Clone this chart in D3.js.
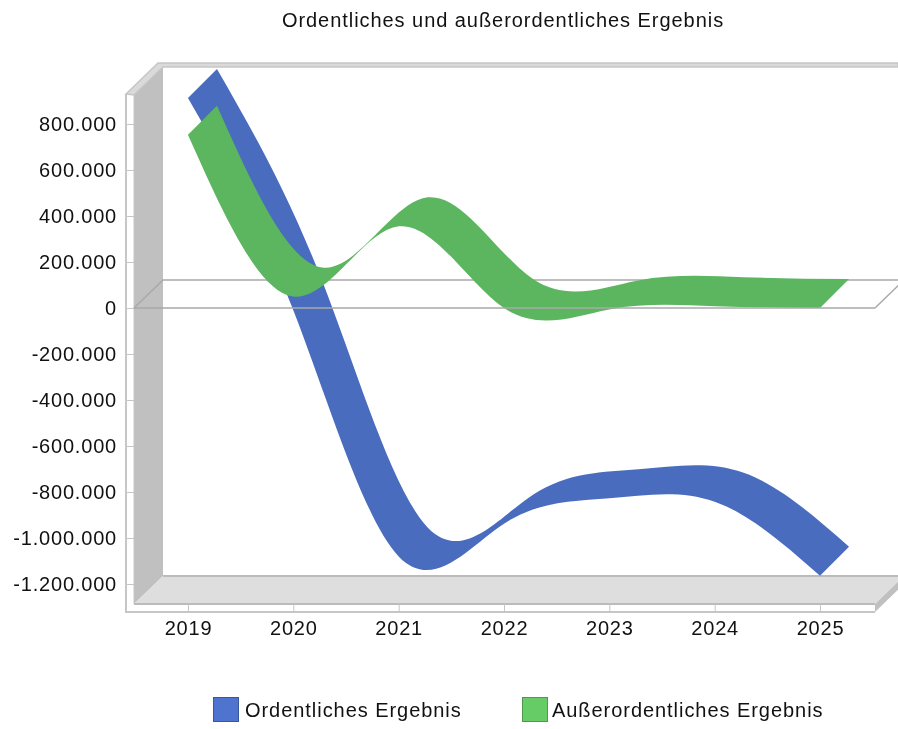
<!DOCTYPE html>
<html>
<head>
<meta charset="utf-8">
<script src="https://cdn.jsdelivr.net/npm/d3@7"></script>
<style>
    html, body { margin: 0; padding: 0; background: #fff; }
    svg { filter: blur(0.35px); }
    text { font-family: "Liberation Sans", Arial, sans-serif; font-size: 20px; fill: #111; letter-spacing: 0.95px; }
    .tick text { letter-spacing: 0.8px; }
</style>
</head>
<body>
<div id="chart"></div>
<script>
const chartTitle = "Ordentliches und außerordentliches Ergebnis";
const years = ["2019", "2020", "2021", "2022", "2023", "2024", "2025"];
const ordentlich = [913000, -10000, -1080000, -938000, -827000, -842000, -1164000];
const ausserordentlich = [753000, 50000, 355000, 0, -6000, 8000, 0];
const yTicks = [800000, 600000, 400000, 200000, 0, -200000, -400000, -600000, -800000, -1000000, -1200000];
const seriesNames = ["Ordentliches Ergebnis", "Außerordentliches Ergebnis"];
const seriesColors = ["#4a6cbf", "#5cb660"];
const legendColors = ["#4f74d0", "#66cc66"];

const width = 898;
const height = 729;

// front plane of the 3d box, back plane sits depth px up and to the right
const plotLeft = 134, plotRight = 875, plotTop = 95, plotBottom = 604;
const depthX = 29, depthY = 28;
const ribbonDepth = 29;

const svg = d3.select("#chart")
    .append("svg")
    .attr("width", width)
    .attr("height", height)
    .style("display", "block");

const xScale = d3.scalePoint()
    .domain(years)
    .range([135.3, 872.7])
    .padding(0.5);

const yScale = d3.scaleLinear()
    .domain([-1200000, 800000])
    .range([584, 124]);

const poly = pts => "M" + pts.map(p => p.join(",")).join("L") + "Z";

svg.append("text")
    .attr("x", 503)
    .attr("y", 27)
    .attr("text-anchor", "middle")
    .text(chartTitle);

// walls and floor
svg.append("path")
    .attr("d", poly([[plotLeft, plotTop], [plotLeft + depthX, plotTop - depthY], [plotLeft + depthX, plotBottom - depthY], [plotLeft, plotBottom]]))
    .attr("fill", "#c0c0c0");
svg.append("path")
    .attr("d", poly([[plotLeft, plotBottom], [plotLeft + depthX, plotBottom - depthY], [plotRight + depthX, plotBottom - depthY], [plotRight, plotBottom]]))
    .attr("fill", "#dedede");
svg.append("path")
    .attr("d", poly([[plotRight, plotBottom], [plotRight + depthX, plotBottom - depthY], [plotRight + depthX, plotBottom - depthY + 8], [plotRight, plotBottom + 8]]))
    .attr("fill", "#c0c0c0");

const frame = "#c6c6c6";
svg.append("line").attr("x1", plotLeft + depthX).attr("x2", width).attr("y1", plotBottom - depthY).attr("y2", plotBottom - depthY).attr("stroke", "#bbb").attr("stroke-width", 2);
svg.append("line").attr("x1", plotLeft).attr("x2", plotRight).attr("y1", plotBottom).attr("y2", plotBottom).attr("stroke", "#bbb").attr("stroke-width", 2);
svg.append("line").attr("x1", plotLeft - 9).attr("x2", plotRight).attr("y1", plotBottom + 8).attr("y2", plotBottom + 8).attr("stroke", frame).attr("stroke-width", 2);
svg.append("line").attr("x1", plotLeft - 8).attr("x2", plotLeft - 8).attr("y1", plotTop - 1).attr("y2", plotBottom + 9).attr("stroke", frame).attr("stroke-width", 2);
svg.append("line").attr("x1", plotLeft).attr("x2", plotLeft).attr("y1", plotTop).attr("y2", plotBottom).attr("stroke", frame).attr("stroke-width", 1);
svg.append("path")
    .attr("d", poly([[plotLeft - 8, plotTop - 1], [plotLeft + depthX - 5, plotTop - depthY - 4], [width, plotTop - depthY - 4], [width, plotTop - depthY], [plotLeft + depthX, plotTop - depthY], [plotLeft, plotTop]]))
    .attr("fill", "#dadada")
    .attr("stroke", frame)
    .attr("stroke-width", 1.5);

// zero plane, back edge goes under the ribbons
const zeroColor = "#a9a9a9";
svg.append("path")
    .attr("d", `M${plotLeft},${yScale(0)}L${plotLeft + depthX},${yScale(0) - depthY}L${width},${yScale(0) - depthY}`)
    .attr("fill", "none")
    .attr("stroke", zeroColor)
    .attr("stroke-width", 1.5);
svg.append("line")
    .attr("x1", plotRight).attr("y1", yScale(0))
    .attr("x2", plotRight + depthX).attr("y2", yScale(0) - depthY)
    .attr("stroke", zeroColor)
    .attr("stroke-width", 1.5);

// ribbon = spline on the front plane, same spline back on the rear plane
const frontLine = d3.line()
    .x((d, i) => xScale(years[i]))
    .y(d => yScale(d))
    .curve(d3.curveNatural);

const backLine = d3.line()
    .x((d, i) => xScale(years[years.length - 1 - i]) + ribbonDepth)
    .y(d => yScale(d) - ribbonDepth)
    .curve(d3.curveNatural);

[ordentlich, ausserordentlich].forEach((values, k) => {
    const front = frontLine(values);
    const back = backLine(values.slice().reverse());
    svg.append("path")
        .attr("d", front + "L" + back.slice(1) + "Z")
        .attr("fill", seriesColors[k]);
});

svg.append("line")
    .attr("x1", plotLeft).attr("x2", plotRight)
    .attr("y1", yScale(0)).attr("y2", yScale(0))
    .attr("stroke", zeroColor)
    .attr("stroke-width", 1.5);

// axes
const yAxis = d3.axisLeft(yScale)
    .tickValues(yTicks)
    .tickSize(8)
    .tickPadding(9)
    .tickFormat(d => d3.format(",")(d).replace(/,/g, ".").replace("−", "-"));

const yG = svg.append("g")
    .attr("transform", `translate(${plotLeft},0)`)
    .call(yAxis);
yG.select(".domain").remove();
yG.selectAll("line").attr("stroke", frame);
yG.selectAll("text").attr("dy", "0.33em");

const xG = svg.append("g")
    .attr("transform", `translate(0,${plotBottom})`)
    .call(d3.axisBottom(xScale).tickSize(8).tickPadding(9));
xG.select(".domain").remove();
xG.selectAll("line").attr("stroke", frame);

// legend
const legendX = [213, 522];
seriesNames.forEach((name, i) => {
    svg.append("rect")
        .attr("x", legendX[i] + 0.5).attr("y", 697.5)
        .attr("width", 25).attr("height", 24)
        .attr("fill", legendColors[i])
        .attr("stroke", d3.color(legendColors[i]).darker(0.8));
    svg.append("text")
        .attr("x", legendX[i] + (i === 0 ? 32 : 30))
        .attr("y", 717)
        .text(name);
});
</script>
</body>
</html>
